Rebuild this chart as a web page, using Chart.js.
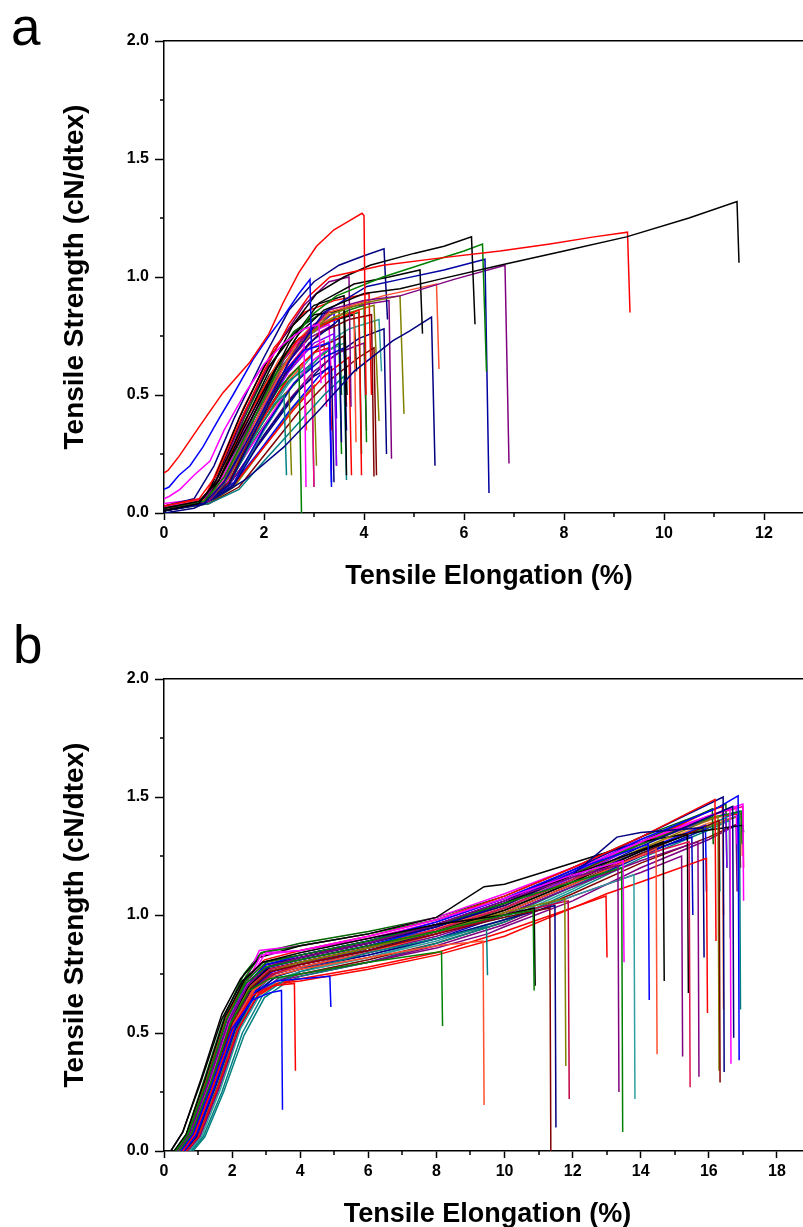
<!DOCTYPE html>
<html>
<head>
<meta charset="utf-8">
<script src="https://cdn.jsdelivr.net/npm/chart.js@4.4.1/dist/chart.umd.min.js"></script>
<style>
  html, body { margin: 0; padding: 0; background: #fff; overflow: hidden; width: 803px; height: 1227px; }
  .panel-label { position: absolute; font-family: "Liberation Sans", Arial, sans-serif; font-size: 53px; line-height: 53px; color: #000; }
  canvas { position: absolute; left: 0; }
</style>
</head>
<body>
<div class="panel-label" style="left:11px; top:0px;">a</div>
<canvas id="chartA" width="830" height="600" style="top:0px"></canvas>
<div class="panel-label" style="left:13px; top:618px;">b</div>
<canvas id="chartB" width="830" height="600" style="top:638px"></canvas>
<script>
// ---- axis ticks ----
const yTickValues = [0, 0.5, 1, 1.5, 2];
const yTickLabels = ['0.0', '0.5', '1.0', '1.5', '2.0'];
const yMinorTicks = [0.25, 0.75, 1.25, 1.75];
const xTickLabelsA = ['0', '2', '4', '6', '8', '10', '12'];
const xMinorTicksA = [1, 3, 5, 7, 9, 11, 13];
const xTickLabelsB = ['0', '2', '4', '6', '8', '10', '12', '14', '16', '18'];
const xMinorTicksB = [1, 3, 5, 7, 9, 11, 13, 15, 17, 19];

// ---- panel a: [elongation %, strength cN/dtex] ----
const a01 = [[0,0.17],[0.08,0.18],[0.3,0.24],[0.72,0.37],[1.18,0.51],[1.72,0.64],[2.1,0.76],[2.38,0.89],[2.7,1.02],[3.05,1.13],[3.4,1.2],[3.72,1.24],[3.96,1.27],[4.0,1.26],[4.04,0.5]];
const a02 = [[0,0.1],[0.1,0.11],[0.3,0.16],[0.52,0.2],[0.78,0.28],[1.1,0.4],[1.38,0.5],[1.78,0.65],[2.1,0.75],[2.38,0.83],[2.7,0.93],[2.92,0.99],[2.96,0.6]];
const a03 = [[0,0.06],[0.1,0.07],[0.32,0.1],[0.6,0.16],[0.92,0.22],[1.2,0.35],[1.6,0.5],[2.0,0.63],[2.4,0.72],[2.8,0.78],[3.1,0.8],[3.14,0.55]];
const a04 = [[0,0.02],[0.7,0.05],[1.1,0.14],[1.6,0.36],[2.2,0.6],[2.7,0.76],[3.2,0.86],[4.0,0.93],[4.72,0.95],[5.5,0.99],[6.72,1.05],[8.0,1.11],[9.25,1.17],[10.5,1.25],[11.46,1.32],[11.5,1.06]];
const a05 = [[0,0.03],[0.7,0.06],[1.05,0.16],[1.5,0.38],[2.0,0.6],[2.5,0.8],[2.9,0.92],[3.32,1.0],[4.38,1.05],[5.5,1.08],[6.72,1.11],[7.72,1.14],[8.6,1.17],[9.27,1.19],[9.32,0.85]];
const a06 = [[0,0.01],[0.7,0.04],[1.05,0.14],[1.6,0.38],[2.1,0.6],[2.59,0.8],[3.05,0.93],[3.6,1.0],[4.12,1.05],[5.0,1.1],[5.6,1.13],[6.15,1.17],[6.22,0.8]];
const a07 = [[0,0.02],[0.8,0.05],[1.2,0.15],[1.8,0.4],[2.4,0.66],[2.9,0.83],[3.45,0.92],[4.38,1.0],[5.4,1.07],[6.0,1.11],[6.37,1.14],[6.45,0.6]];
const a08 = [[0,0.01],[0.8,0.04],[1.2,0.13],[1.8,0.36],[2.5,0.64],[3.2,0.85],[4.06,0.96],[4.72,0.99],[5.6,1.03],[6.42,1.075],[6.5,0.085]];
const a09 = [[0,0.02],[0.9,0.05],[1.3,0.16],[2.0,0.44],[2.7,0.72],[3.3,0.86],[4.0,0.9],[4.72,0.92],[5.8,0.99],[6.82,1.05],[6.9,0.21]];
const a10 = [[0,0.01],[0.8,0.04],[1.1,0.14],[1.8,0.42],[2.5,0.72],[3.1,0.89],[3.8,0.97],[4.5,1.0],[5.12,1.03],[5.17,0.76]];
const a11 = [[0,0.02],[0.9,0.06],[1.3,0.16],[1.9,0.42],[2.6,0.7],[3.3,0.85],[4.38,0.92],[5.45,0.97],[5.5,0.61]];
const a12 = [[0,0],[0.6,0.02],[1.0,0.06],[1.62,0.14],[2.4,0.28],[3.12,0.44],[3.8,0.6],[4.58,0.73],[4.9,0.77],[5.35,0.83],[5.42,0.2]];
const a13 = [[0,0.02],[0.9,0.05],[1.3,0.15],[1.9,0.4],[2.6,0.68],[3.3,0.84],[4.0,0.89],[4.72,0.92],[4.8,0.42]];
const a14 = [[0,0.03],[0.6,0.06],[1.0,0.2],[1.4,0.4],[2.0,0.66],[2.5,0.86],[3.0,0.98],[3.5,1.05],[4.0,1.09],[4.4,1.12],[4.47,0.82]];
const a15 = [[0,0.02],[0.8,0.05],[1.1,0.16],[1.7,0.46],[2.3,0.72],[2.8,0.88],[3.3,0.98],[3.7,1.0],[3.74,0.45]];
const a16 = [[0,0.01],[0.7,0.04],[1.0,0.12],[1.6,0.42],[2.1,0.62],[2.6,0.76],[3.0,0.84],[3.6,0.86],[3.65,0.16]];
const a17 = [[0,0.02],[0.7,0.05],[1.1,0.14],[1.7,0.42],[2.2,0.6],[2.7,0.74],[3.2,0.8],[3.9,0.86],[3.95,0.16]];
const a18 = [[0,0.01],[0.8,0.04],[1.2,0.12],[1.8,0.38],[2.3,0.57],[2.8,0.69],[3.3,0.72],[3.35,0.13]];
const a19 = [[0,0.04],[0.8,0.06],[1.2,0.16],[1.7,0.4],[2.2,0.6],[2.6,0.71],[2.8,0.74],[2.84,0.11]];
const a20 = [[0,0.02],[0.8,0.05],[1.2,0.13],[1.8,0.4],[2.3,0.6],[2.8,0.74],[3.4,0.83],[4.2,0.88],[4.3,0.39]];
const a21 = [[0,0.01],[0.8,0.04],[1.3,0.12],[1.9,0.38],[2.4,0.58],[2.9,0.72],[3.4,0.8],[3.5,0.82],[3.55,0.3]];
const a22 = [[0,0.02],[0.8,0.05],[1.2,0.13],[1.8,0.42],[2.4,0.65],[3.0,0.8],[3.6,0.87],[4.5,0.9],[4.55,0.23]];
const a23 = [[0,0.01],[0.8,0.04],[1.3,0.13],[1.9,0.4],[2.5,0.62],[3.1,0.76],[3.7,0.82],[4.15,0.84],[4.2,0.155]];
const a24 = [[0,0.02],[0.8,0.05],[1.3,0.12],[1.8,0.32],[2.2,0.46],[2.4,0.5],[2.45,0.16]];
const a25 = [[0,0.02],[0.8,0.05],[1.2,0.12],[1.8,0.36],[2.3,0.53],[2.7,0.62],[2.75,0.0]];
const a26 = [[0,0.01],[0.8,0.04],[1.4,0.13],[2.0,0.36],[2.6,0.55],[3.2,0.66],[3.6,0.7],[3.65,0.35]];
const a27 = [[0,0.02],[0.8,0.05],[1.1,0.13],[1.7,0.42],[2.3,0.65],[2.9,0.78],[3.5,0.84],[3.8,0.85],[3.84,0.3]];
const a28 = [[0,0.01],[0.8,0.05],[1.3,0.13],[1.9,0.4],[2.5,0.6],[3.0,0.72],[3.4,0.76],[3.45,0.2]];
const a29 = [[0,0.02],[0.8,0.05],[1.1,0.13],[1.6,0.4],[2.1,0.62],[2.6,0.77],[3.1,0.84],[3.5,0.86],[3.55,0.5]];
const a30 = [[0,0.02],[0.8,0.04],[1.2,0.12],[1.8,0.38],[2.3,0.57],[2.8,0.7],[2.95,0.72],[3.0,0.11]];
const a31 = [[0,0.01],[0.8,0.04],[1.0,0.14],[1.5,0.4],[2.0,0.62],[2.5,0.78],[3.0,0.88],[3.6,0.92],[3.66,0.5]];
const a32 = [[0,0.02],[0.8,0.05],[1.3,0.12],[1.9,0.37],[2.5,0.58],[3.0,0.68],[3.3,0.7],[3.35,0.35]];
const a33 = [[0,0.02],[0.8,0.05],[1.3,0.12],[1.8,0.33],[2.3,0.48],[2.5,0.52],[2.55,0.16]];
const a34 = [[0,0.01],[0.8,0.04],[1.4,0.12],[2.0,0.33],[2.6,0.5],[3.0,0.58],[3.35,0.62],[3.4,0.13]];
const a35 = [[0,0.02],[0.8,0.05],[1.2,0.13],[1.8,0.4],[2.4,0.62],[2.9,0.74],[3.4,0.8],[3.45,0.2]];
const a36 = [[0,0.02],[0.8,0.05],[1.3,0.13],[1.9,0.38],[2.5,0.56],[2.95,0.63],[3.0,0.11]];
const a37 = [[0,0.03],[0.8,0.05],[1.2,0.14],[1.8,0.42],[2.4,0.63],[3.0,0.77],[3.3,0.8],[3.35,0.55]];
const a38 = [[0,0.02],[0.8,0.05],[1.2,0.13],[1.8,0.4],[2.4,0.63],[3.0,0.78],[3.4,0.85],[3.45,0.4]];
const a39 = [[0,0.03],[0.8,0.06],[1.0,0.15],[1.6,0.45],[2.2,0.7],[2.8,0.85],[3.4,0.9],[4.1,0.93],[4.15,0.5]];
const a40 = [[0,0.01],[0.8,0.04],[1.3,0.12],[1.9,0.38],[2.5,0.58],[3.1,0.7],[3.6,0.75],[3.65,0.45]];
const a41 = [[0,0.02],[0.8,0.05],[1.2,0.13],[1.8,0.4],[2.4,0.63],[3.0,0.78],[3.7,0.86],[4.0,0.88],[4.05,0.3]];
const a42 = [[0,0.02],[0.8,0.04],[1.4,0.12],[2.0,0.35],[2.6,0.55],[3.2,0.68],[3.6,0.72],[3.65,0.55]];
const a43 = [[0,0.01],[0.9,0.04],[1.5,0.1],[2.0,0.22],[2.6,0.36],[3.2,0.5],[3.6,0.58],[3.65,0.14]];
const a44 = [[0,0.02],[0.9,0.05],[1.4,0.12],[2.0,0.28],[2.6,0.44],[3.2,0.58],[3.7,0.66],[3.75,0.16]];
const a45 = [[0,0.01],[0.9,0.04],[1.5,0.11],[2.1,0.27],[2.7,0.43],[3.3,0.56],[3.9,0.66],[4.2,0.7],[4.25,0.16]];
const a46 = [[0,0.02],[0.9,0.05],[1.3,0.1],[1.9,0.26],[2.5,0.43],[3.1,0.58],[3.3,0.62],[3.35,0.11]];
const a47 = [[0,0.02],[0.8,0.05],[1.3,0.12],[1.9,0.3],[2.5,0.48],[3.0,0.6],[3.5,0.68],[4.0,0.72],[4.05,0.35]];
const a48 = [[0,0.01],[0.9,0.04],[1.4,0.11],[2.0,0.28],[2.6,0.45],[3.0,0.54],[3.05,0.2]];
const a49 = [[0,0.02],[0.8,0.05],[1.3,0.12],[2.0,0.32],[2.7,0.52],[3.3,0.65],[3.9,0.74],[4.4,0.78],[4.45,0.25]];
const a50 = [[0,0.03],[0.8,0.05],[1.2,0.11],[1.8,0.3],[2.4,0.5],[3.0,0.65],[3.3,0.7],[3.35,0.18]];
const a51 = [[0,0.02],[0.8,0.05],[1.3,0.13],[1.9,0.34],[2.5,0.52],[3.1,0.66],[3.5,0.72],[3.55,0.25]];
const a52 = [[0,0.01],[0.8,0.04],[1.2,0.12],[1.8,0.34],[2.4,0.54],[2.8,0.63],[2.85,0.35]];
const a53 = [[0,0.02],[0.8,0.05],[1.1,0.14],[1.6,0.38],[2.1,0.58],[2.6,0.72],[3.1,0.8],[3.8,0.84],[3.85,0.6]];
const a54 = [[0,0.02],[0.8,0.05],[1.15,0.14],[1.7,0.38],[2.2,0.58],[2.8,0.74],[3.4,0.82],[3.9,0.85],[3.95,0.25]];
const a55 = [[0,0.02],[0.8,0.05],[1.2,0.13],[1.8,0.36],[2.3,0.55],[2.8,0.68],[3.2,0.73],[3.25,0.45]];
const a56 = [[0,0.01],[0.8,0.04],[1.3,0.13],[1.9,0.36],[2.5,0.55],[3.1,0.7],[3.7,0.78],[4.3,0.82],[4.35,0.6]];

// ---- panel b: [elongation %, strength cN/dtex] ----
const b01 = [[0.5,0],[0.85,0.07],[1.4,0.28],[2.0,0.52],[2.6,0.64],[3.1,0.67],[3.45,0.68],[3.48,0.175]];
const b02 = [[0.55,0],[0.9,0.07],[1.45,0.28],[2.05,0.53],[2.6,0.66],[3.2,0.7],[3.83,0.71],[3.86,0.34]];
const b03 = [[0.6,0],[0.95,0.07],[1.5,0.28],[2.1,0.53],[2.7,0.68],[3.3,0.72],[4.87,0.74],[4.9,0.61]];
const b04 = [[0.45,0],[0.8,0.07],[1.35,0.28],[1.95,0.54],[2.5,0.68],[3.1,0.73],[4,0.75],[6,0.8],[8.15,0.845],[8.18,0.53]];
const b05 = [[0.55,0],[0.9,0.07],[1.45,0.28],[2.05,0.54],[2.6,0.68],[3.2,0.74],[4,0.77],[6,0.82],[8,0.87],[9.37,0.89],[9.4,0.195]];
const b06 = [[0.8,0],[1.15,0.06],[1.7,0.25],[2.3,0.5],[2.9,0.66],[3.5,0.72],[4,0.76],[6,0.84],[8,0.9],[9.47,0.95],[9.5,0.745]];
const b07 = [[0.35,0],[0.7,0.07],[1.25,0.29],[1.85,0.56],[2.4,0.71],[3.0,0.78],[4,0.81],[6,0.87],[8,0.93],[10,1.0],[10.84,1.02],[10.87,0.68]];
const b08 = [[0.2,0],[0.55,0.08],[1.1,0.3],[1.7,0.56],[2.3,0.72],[2.9,0.8],[4,0.84],[6,0.9],[8,0.96],[10,1.0],[10.87,1.03],[10.9,0.7]];
const b09 = [[0.5,0],[0.85,0.07],[1.4,0.28],[2.0,0.54],[2.55,0.69],[3.1,0.76],[4,0.79],[6,0.85],[8,0.92],[10,0.99],[11.33,1.03],[11.36,0]];
const b10 = [[0.6,0],[0.95,0.06],[1.5,0.27],[2.1,0.52],[2.7,0.67],[3.3,0.74],[4,0.77],[6,0.83],[8,0.9],[10,0.98],[11.48,1.04],[11.51,0.1]];
const b11 = [[0.45,0],[0.8,0.07],[1.35,0.28],[1.95,0.54],[2.5,0.69],[3.1,0.76],[4,0.8],[6,0.86],[8,0.93],[10,1.01],[11.77,1.07],[11.8,0.36]];
const b12 = [[0.55,0],[0.9,0.07],[1.45,0.28],[2.05,0.53],[2.6,0.68],[3.2,0.75],[4,0.79],[6,0.85],[8,0.92],[10,1.0],[11.87,1.06],[11.9,0.22]];
const b13 = [[0.65,0],[1.0,0.06],[1.55,0.26],[2.15,0.51],[2.75,0.66],[3.3,0.71],[4,0.73],[6,0.78],[8,0.84],[10,0.93],[12.98,1.08],[13.01,0.82]];
const b14 = [[0.4,0],[0.75,0.07],[1.3,0.29],[1.9,0.55],[2.45,0.7],[3.0,0.78],[4,0.82],[6,0.88],[8,0.96],[10,1.06],[12,1.16],[13.33,1.21],[13.36,0.25]];
const b15 = [[0.35,0],[0.7,0.07],[1.25,0.29],[1.85,0.56],[2.4,0.72],[3.0,0.8],[4,0.83],[6,0.89],[8,0.96],[10,1.05],[12,1.14],[13.44,1.2],[13.47,0.08]];
const b16 = [[0.45,0],[0.8,0.07],[1.35,0.29],[1.95,0.56],[2.5,0.72],[2.9,0.82],[3.0,0.84],[4,0.85],[6,0.91],[8,0.98],[10,1.07],[12,1.17],[13.48,1.23],[13.51,0.8]];
const b17 = [[0.75,0],[1.1,0.06],[1.65,0.26],[2.25,0.52],[2.85,0.67],[3.4,0.73],[4,0.76],[6,0.82],[8,0.9],[10,0.98],[12,1.08],[13.8,1.17],[13.83,0.22]];
const b18 = [[0.4,0],[0.75,0.07],[1.3,0.29],[1.9,0.55],[2.45,0.71],[3.0,0.79],[4,0.83],[6,0.89],[8,0.97],[10,1.07],[12,1.19],[14.22,1.3],[14.25,0.64]];
const b19 = [[0.6,0],[0.95,0.07],[1.5,0.28],[2.1,0.53],[2.65,0.68],[3.2,0.75],[4,0.78],[6,0.84],[8,0.92],[10,1.01],[12,1.13],[14.45,1.28],[14.48,0.41]];
const b20 = [[0.3,0],[0.65,0.07],[1.2,0.3],[1.8,0.57],[2.35,0.72],[2.9,0.8],[4,0.83],[6,0.89],[8,0.96],[10,1.05],[12,1.17],[14.66,1.31],[14.69,0.72]];
const b21 = [[0.7,0],[1.05,0.06],[1.6,0.26],[2.2,0.51],[2.8,0.67],[3.35,0.73],[4,0.75],[6,0.8],[8,0.87],[10,0.96],[12,1.08],[14,1.18],[15.2,1.25],[15.23,0.4]];
const b22 = [[0.5,0],[0.85,0.07],[1.4,0.28],[2.0,0.54],[2.55,0.7],[3.1,0.77],[4,0.8],[6,0.86],[8,0.94],[10,1.03],[12,1.15],[14,1.25],[15.42,1.31],[15.45,0.27]];
const b23 = [[0.45,0],[0.8,0.07],[1.35,0.28],[1.95,0.54],[2.5,0.7],[3.05,0.77],[4,0.8],[6,0.86],[8,0.93],[10,1.02],[12,1.14],[14,1.27],[15.37,1.34],[15.4,0.67]];
const b24 = [[0.55,0],[0.9,0.07],[1.45,0.28],[2.05,0.53],[2.6,0.68],[3.15,0.75],[4,0.78],[6,0.84],[8,0.91],[10,1.0],[12,1.12],[14,1.23],[15.68,1.31],[15.71,0.315]];
const b25 = [[0.7,0],[1.05,0.06],[1.6,0.26],[2.2,0.51],[2.8,0.66],[3.35,0.71],[4,0.72],[6,0.77],[8,0.83],[10,0.91],[12,1.03],[13,1.09],[14,1.14],[15.93,1.24],[15.96,0.585]];
const b26 = [[0.4,0],[0.75,0.07],[1.3,0.29],[1.9,0.55],[2.45,0.71],[3.0,0.79],[4,0.82],[6,0.88],[8,0.95],[10,1.04],[12,1.17],[13.3,1.33],[14,1.35],[15.83,1.37],[15.86,0.82]];
const b27 = [[0.35,0],[0.7,0.07],[1.25,0.3],[1.85,0.57],[2.4,0.73],[2.95,0.81],[4,0.85],[6,0.91],[8,0.98],[10,1.08],[12,1.2],[14,1.33],[16.18,1.49],[16.21,0.89]];
const b28 = [[0.6,0],[0.95,0.07],[1.5,0.28],[2.1,0.53],[2.65,0.68],[3.2,0.75],[4,0.78],[6,0.84],[8,0.92],[10,1.01],[12,1.13],[14,1.26],[16.3,1.4],[16.33,0.29]];
const b29 = [[0.5,0],[0.85,0.07],[1.4,0.28],[2.0,0.54],[2.55,0.7],[3.1,0.77],[4,0.8],[6,0.86],[8,0.93],[10,1.03],[12,1.15],[14,1.28],[16.27,1.42],[16.3,0.34]];
const b30 = [[0.45,0],[0.8,0.07],[1.35,0.29],[1.95,0.55],[2.5,0.71],[3.05,0.78],[4,0.82],[6,0.88],[8,0.96],[10,1.06],[12,1.19],[14,1.33],[16.42,1.5],[16.45,0.335]];
const b31 = [[0.55,0],[0.9,0.07],[1.45,0.28],[2.05,0.53],[2.6,0.69],[3.15,0.76],[4,0.79],[6,0.85],[8,0.93],[10,1.03],[12,1.15],[14,1.29],[16.7,1.46],[16.73,0.48]];
const b32 = [[0.4,0],[0.75,0.07],[1.3,0.29],[1.9,0.56],[2.45,0.72],[2.85,0.83],[4,0.85],[6,0.9],[8,0.97],[10,1.07],[12,1.19],[14,1.31],[16.62,1.45],[16.65,0.37]];
const b33 = [[0.5,0],[0.85,0.07],[1.4,0.28],[2.0,0.55],[2.55,0.71],[3.1,0.78],[4,0.81],[6,0.87],[8,0.95],[10,1.05],[12,1.18],[14,1.32],[16.2,1.45],[16.86,1.505],[16.89,0.385]];
const b34 = [[0.55,0],[0.9,0.07],[1.45,0.29],[2.05,0.55],[2.6,0.71],[3.15,0.79],[4,0.83],[6,0.89],[8,0.96],[10,1.06],[12,1.18],[14,1.31],[16,1.42],[17.0,1.47],[17.02,1.06]];
const b35 = [[0.2,0],[0.55,0.08],[1.1,0.31],[1.7,0.58],[2.25,0.73],[2.8,0.82],[4,0.87],[6,0.92],[8,0.99],[9.4,1.12],[10,1.13],[12,1.22],[14,1.31],[16,1.36],[17.0,1.38],[17.02,1.35]];
const b36 = [[0.35,0],[0.7,0.07],[1.25,0.3],[1.85,0.57],[2.4,0.74],[2.9,0.84],[4,0.87],[6,0.92],[8,0.98],[10,1.07],[12,1.18],[14,1.3],[16,1.41],[16.95,1.44],[16.98,1.3]];
const b37 = [[0.65,0],[1.0,0.06],[1.55,0.27],[2.15,0.52],[2.75,0.68],[3.3,0.74],[4,0.77],[6,0.86],[7,0.91],[8,0.93],[10,0.99],[12,1.12],[14,1.26],[16,1.38],[16.9,1.44],[16.93,0.6]];
const b38 = [[0.4,0],[0.75,0.07],[1.3,0.29],[1.9,0.55],[2.45,0.71],[3.0,0.79],[4,0.82],[6,0.88],[8,0.95],[10,1.05],[12,1.17],[14,1.31],[16.1,1.45],[16.13,1.3]];
const b39 = [[0.6,0],[0.95,0.07],[1.5,0.28],[2.1,0.53],[2.65,0.69],[3.2,0.76],[4,0.79],[6,0.85],[8,0.93],[10,1.03],[12,1.16],[14,1.3],[16.5,1.43],[16.53,1.2]];
const b40 = [[0.5,0],[0.85,0.07],[1.4,0.28],[2.0,0.54],[2.55,0.7],[3.1,0.77],[4,0.8],[6,0.86],[8,0.94],[10,1.04],[12,1.16],[14,1.3],[16.4,1.42],[16.43,0.6]];
const b41 = [[0.45,0],[0.8,0.07],[1.35,0.29],[1.95,0.55],[2.5,0.71],[3.05,0.78],[4,0.81],[6,0.87],[8,0.94],[10,1.04],[12,1.17],[14,1.3],[16,1.41],[16.95,1.43],[16.98,1.38]];
const b42 = [[0.55,0],[0.9,0.07],[1.45,0.28],[2.05,0.54],[2.6,0.7],[3.15,0.77],[4,0.8],[6,0.85],[8,0.92],[10,1.01],[12,1.13],[14,1.26],[15.5,1.33],[15.53,1.0]];
const b43 = [[0.85,0],[1.2,0.06],[1.75,0.25],[2.35,0.49],[2.95,0.65],[3.55,0.71],[4,0.74],[6,0.8],[8,0.88],[10,0.97],[12,1.1],[14,1.24],[16,1.36],[16.6,1.4],[16.63,0.9]];
const b44 = [[0.5,0],[0.85,0.07],[1.4,0.29],[2.0,0.55],[2.55,0.72],[3.0,0.8],[4,0.83],[6,0.88],[8,0.95],[10,1.05],[12,1.17],[14,1.3],[16,1.44],[16.4,1.46],[16.43,1.0]];
const b45 = [[0.45,0],[0.8,0.07],[1.35,0.28],[1.95,0.54],[2.5,0.7],[3.05,0.78],[4,0.81],[6,0.87],[8,0.94],[10,1.03],[12,1.15],[14,1.27],[15.9,1.38],[15.93,1.1]];
const b46 = [[0.4,0],[0.75,0.07],[1.3,0.3],[1.9,0.57],[2.45,0.74],[2.8,0.85],[4,0.87],[6,0.92],[8,0.99],[10,1.09],[12,1.2],[14,1.32],[16.8,1.46],[16.83,1.3]];
const b47 = [[0.6,0],[0.95,0.06],[1.5,0.27],[2.1,0.52],[2.7,0.67],[3.3,0.72],[4,0.74],[6,0.8],[8,0.86],[9.5,0.92],[10,0.95],[12,1.06],[14,1.2],[16,1.32],[16.8,1.38],[16.83,1.1]];
const b48 = [[0.55,0],[0.9,0.07],[1.45,0.28],[2.05,0.53],[2.6,0.69],[3.15,0.76],[4,0.79],[6,0.85],[8,0.92],[10,1.02],[12,1.14],[14,1.27],[16.9,1.42],[16.93,1.3]];
const b49 = [[0.6,0],[0.95,0.07],[1.5,0.27],[2.1,0.52],[2.7,0.68],[3.25,0.75],[4,0.78],[6,0.83],[8,0.9],[10,1.0],[12,1.12],[14,1.25],[16,1.37],[16.85,1.42],[16.88,1.15]];
const b50 = [[0.3,0],[0.65,0.07],[1.2,0.31],[1.8,0.58],[2.35,0.75],[2.85,0.84],[4,0.88],[6,0.93],[8,0.99],[10,1.08],[12,1.2],[14,1.33],[16,1.44],[16.5,1.47],[16.53,1.2]];
const b51 = [[0.65,0],[1.0,0.06],[1.55,0.26],[2.15,0.51],[2.75,0.66],[3.3,0.72],[4,0.75],[6,0.81],[8,0.88],[10,0.97],[12,1.09],[14,1.22],[16,1.33],[16.9,1.39],[16.93,1.2]];
const b52 = [[0.5,0],[0.85,0.07],[1.4,0.29],[2.0,0.55],[2.55,0.71],[3.1,0.79],[4,0.82],[6,0.88],[8,0.95],[10,1.05],[12,1.18],[14,1.3],[16,1.42],[17.0,1.46],[17.02,1.2]];
const b53 = [[0.7,0],[1.05,0.06],[1.6,0.26],[2.2,0.51],[2.8,0.66],[3.35,0.73],[4,0.76],[6,0.82],[8,0.89],[10,0.98],[12,1.11],[14,1.25],[16,1.37],[16.3,1.39],[16.33,1.1]];
const b54 = [[0.55,0],[0.9,0.07],[1.45,0.28],[2.05,0.54],[2.6,0.7],[3.15,0.77],[4,0.8],[6,0.86],[8,0.93],[10,1.02],[12,1.14],[14,1.28],[16,1.39],[16.95,1.42],[16.98,1.25]];

const curvesA = [a01,a02,a03,a04,a05,a06,a07,a08,a09,a10,a11,a12,a13,a14,a15,a16,a17,a18,a19,a20,a21,a22,a23,a24,a25,a26,a27,a28,
  a29,a30,a31,a32,a33,a34,a35,a36,a37,a38,a39,a40,a41,a42,a43,a44,a45,a46,a47,a48,a49,a50,a51,a52,a53,a54,a55,a56];
const curvesB = [b01,b02,b03,b04,b05,b06,b07,b08,b09,b10,b11,b12,b13,b14,b15,b16,b17,b18,b19,b20,b21,b22,b23,b24,b25,b26,b27,
  b28,b29,b30,b31,b32,b33,b34,b35,b36,b37,b38,b39,b40,b41,b42,b43,b44,b45,b46,b47,b48,b49,b50,b51,b52,b53,b54];

// Origin-like line colours
const coloursA = ['#FF0000','#0000FF','#FF00FF','#000000','#FF0000','#000000','#008000','#0000A0','#800080','#000000','#FF5030','#000080','#808000','#000080','#800080',
  '#000000','#FF0000','#0000FF','#FF00FF','#808000','#000080','#800080','#800000','#008080','#008000','#0000C0','#FF5030','#8000FF','#006400','#FF0080',
  '#000000','#FF0000','#808000','#000080','#800080','#008080','#FF00FF','#0000FF','#FF0000','#800000','#008000','#1F8F8F',
  '#008080','#FF0000','#800000','#0000FF','#800080','#808000','#000080','#FF00FF','#008000','#FF5030','#000000','#006400','#FF0080','#2F9F9F'];
const coloursB = ['#0000FF','#FF0000','#0000FF','#008000','#FF5030','#008080','#008000','#000000','#800000','#000080','#808000','#C00040',
  '#FF0000','#800080','#008000','#FF00FF','#2F9F9F','#0000FF','#FF5030','#000000','#800080','#E0104F','#000000','#800080','#FF0000',
  '#000080','#FF0000','#800000','#808000','#000080','#000080','#FF00FF','#0000FF','#FF00FF','#000000','#008000','#008080','#006400',
  '#8000FF','#FF8040','#FF0000','#0000C0','#008080','#FF0000','#0000FF','#FF00FF','#800080','#808000','#0000C0','#006400','#800000',
  '#FF0080','#2F9F9F','#FF8040'];

const fontFamily = "'Liberation Sans', Arial, sans-serif";

const minorTicks = {
  id: 'minorTicks',
  afterDraw(chart, args, opts) {
    const { ctx } = chart;
    const xs = chart.scales.x;
    const ys = chart.scales.y;
    ctx.save();
    ctx.strokeStyle = '#000';
    ctx.lineWidth = 1.5;
    ctx.beginPath();
    opts.x.forEach(v => {
      const px = Math.round(xs.getPixelForValue(v));
      ctx.moveTo(px, xs.top);
      ctx.lineTo(px, xs.top + 4);
    });
    opts.y.forEach(v => {
      const py = Math.round(ys.getPixelForValue(v));
      ctx.moveTo(ys.right, py);
      ctx.lineTo(ys.right - 4, py);
    });
    ctx.stroke();
    ctx.restore();
  }
};

// plot area starts at 164px; rightPad puts the right edge just past the viewport
function buildChart(id, curves, colours, xMax, xLabels, xMinor, rightPad) {
  return new Chart(document.getElementById(id), {
    type: 'scatter',
    data: {
      datasets: curves.map((c, i) => ({
        data: c.map(p => ({ x: p[0], y: p[1] })),
        borderColor: colours[i % colours.length],
        borderWidth: 1.5,
        showLine: true,
        pointRadius: 0,
        tension: 0,
        fill: false
      }))
    },
    plugins: [minorTicks],
    options: {
      responsive: false,
      devicePixelRatio: 1,
      animation: false,
      events: [],
      layout: { padding: { left: 48, top: 41, right: rightPad, bottom: 0 } },
      plugins: {
        legend: { display: false },
        tooltip: { enabled: false },
        minorTicks: { x: xMinor, y: yMinorTicks }
      },
      scales: {
        x: {
          type: 'linear',
          position: 'bottom',
          min: 0,
          max: xMax,
          afterFit: s => { s.height = 87; },
          grid: { display: true, drawOnChartArea: false, drawTicks: true, tickLength: 7, tickWidth: 1.5, tickColor: '#000' },
          border: { display: true, color: '#000', width: 1.5 },
          ticks: {
            stepSize: 2,
            includeBounds: false,
            autoSkip: false,
            maxRotation: 0,
            padding: 4,
            color: '#000',
            font: { family: fontFamily, size: 16, weight: 'bold' },
            callback: v => xLabels[v / 2] ?? ''
          },
          title: {
            display: true,
            text: 'Tensile Elongation (%)',
            color: '#000',
            font: { family: fontFamily, size: 27, weight: 'bold' },
            padding: { top: 0, bottom: 7 }
          }
        },
        x2: {
          type: 'linear',
          position: 'top',
          min: 0,
          max: xMax,
          afterFit: s => { s.height = 0; },
          grid: { display: false },
          border: { display: true, color: '#000', width: 1.5 },
          ticks: { display: false }
        },
        y: {
          type: 'linear',
          position: 'left',
          min: 0,
          max: 2,
          afterFit: s => { s.width = 116; },
          grid: { display: true, drawOnChartArea: false, drawTicks: true, tickLength: 9, tickWidth: 1.5, tickColor: '#000' },
          border: { display: true, color: '#000', width: 1.5 },
          ticks: {
            stepSize: 0.5,
            padding: 6,
            color: '#000',
            font: { family: fontFamily, size: 16, weight: 'bold' },
            callback: v => yTickLabels[yTickValues.indexOf(v)] ?? ''
          },
          title: {
            display: true,
            text: 'Tensile Strength (cN/dtex)',
            color: '#000',
            font: { family: fontFamily, size: 28, weight: 'bold' },
            padding: { top: 10, bottom: 0 }
          }
        }
      }
    }
  });
}

buildChart('chartA', curvesA, coloursA, 13, xTickLabelsA, xMinorTicksA, 830 - 814);
buildChart('chartB', curvesB, coloursB, 19, xTickLabelsB, xMinorTicksB, 830 - 811);
</script>
</body>
</html>
